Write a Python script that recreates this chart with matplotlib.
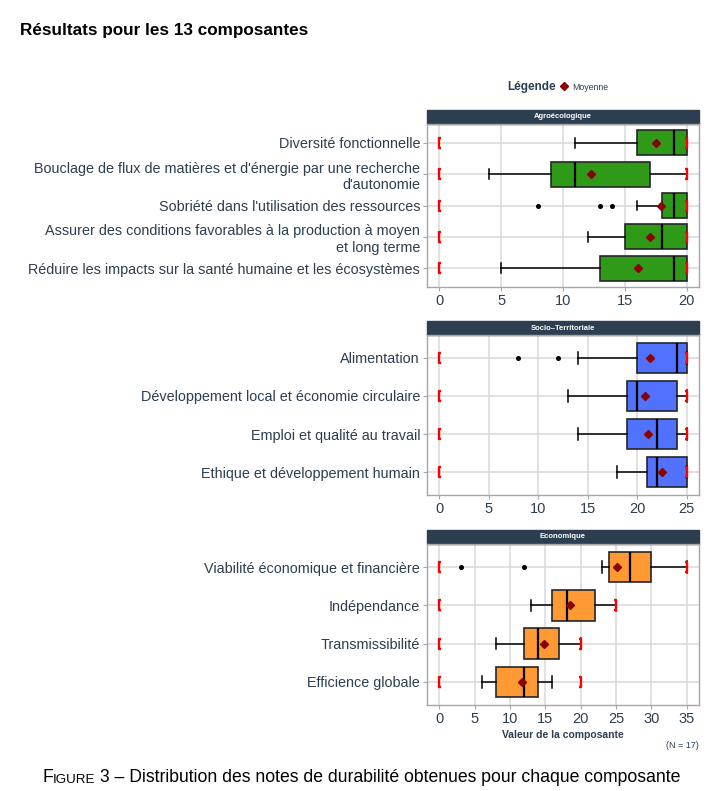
import numpy as np
import matplotlib
matplotlib.use("Agg")
import matplotlib.pyplot as plt
from matplotlib.patches import Rectangle
from matplotlib.lines import Line2D
from matplotlib.text import Annotation

plt.rcParams['font.family'] = ['Liberation Sans', 'DejaVu Sans']

# --- data ------------------------------------------------------------------
agro_labels = ["Diversité fonctionnelle",
               "Bouclage de flux de matières et d'énergie par une recherche\nd'autonomie",
               "Sobriété dans l'utilisation des ressources",
               "Assurer des conditions favorables à la production à moyen\net long terme",
               "Réduire les impacts sur la santé humaine et les écosystèmes"]
agro_whislo = [11, 4, 16, 12, 5]
agro_q1 = [16, 9, 18, 15, 13]
agro_med = [19, 11, 19, 18, 19]
agro_q3 = [20, 17, 20, 20, 20]
agro_whishi = [20, 20, 20, 20, 20]
agro_mean = [17.5, 12.3, 17.9, 17.0, 16.1]
agro_fliers = [[], [], [8, 13, 14], [], []]
agro_range = [20, 20, 20, 20, 20]

socio_labels = ["Alimentation",
                "Développement local et économie circulaire",
                "Emploi et qualité au travail",
                "Ethique et développement humain"]
socio_whislo = [14, 13, 14, 18]
socio_q1 = [20, 19, 19, 21]
socio_med = [24, 20, 22, 22]
socio_q3 = [25, 24, 24, 25]
socio_whishi = [25, 25, 25, 25]
socio_mean = [21.3, 20.8, 21.1, 22.5]
socio_fliers = [[8, 12], [], [], []]
socio_range = [25, 25, 25, 25]

eco_labels = ["Viabilité économique et financière",
              "Indépendance",
              "Transmissibilité",
              "Efficience globale"]
eco_whislo = [23, 13, 8, 6]
eco_q1 = [24, 16, 12, 8]
eco_med = [27, 18, 14, 12]
eco_q3 = [30, 22, 17, 14]
eco_whishi = [35, 25, 20, 16]
eco_mean = [25.2, 18.5, 14.8, 11.7]
eco_fliers = [[3, 12], [], [], []]
eco_range = [35, 25, 20, 20]

TXT = '#2c3e50'
W, H = 722, 791

# bracket shapes marking the possible min / max of each composante
left_br = [(0.45, -1), (0, -1), (0, 1), (0.45, 1)]
right_br = [(-0.45, -1), (0, -1), (0, 1), (-0.45, 1)]


def draw_panel(ax, title, labels, whislo, q1, med, q3, whishi, means, fliers,
               rng, xmax, fill, px_height):
    n = len(labels)
    pos = np.arange(1, n + 1)
    stats = []
    for i in range(n):
        stats.append(dict(whislo=whislo[i], q1=q1[i], med=med[i], q3=q3[i],
                          whishi=whishi[i], mean=means[i], fliers=fliers[i]))
    ax.bxp(stats, positions=pos, widths=0.8, orientation='horizontal',
           patch_artist=True, showmeans=True, capwidths=[0.3] * n,
           boxprops=dict(facecolor=fill, edgecolor='#262626', linewidth=1.2),
           medianprops=dict(color='black', linewidth=1.6),
           whiskerprops=dict(color='black', linewidth=1.1),
           capprops=dict(color='black', linewidth=1.1),
           flierprops=dict(marker='o', markersize=2.6, markerfacecolor='black',
                           markeredgecolor='black'),
           meanprops=dict(marker='D', markersize=4.0, markerfacecolor='#8B0000',
                          markeredgecolor='#8B0000'))
    ax.plot(np.zeros(n), pos, ls='none', marker=left_br, markersize=7.5,
            markeredgecolor='red', markerfacecolor='none', markeredgewidth=1.7,
            zorder=5, clip_on=False)
    ax.plot(rng, pos, ls='none', marker=right_br, markersize=7.5,
            markeredgecolor='red', markerfacecolor='none', markeredgewidth=1.7,
            zorder=5, clip_on=False)

    ax.set_xlim(-0.05 * xmax, 1.05 * xmax)
    ax.set_ylim(n + 0.6, 0.4)
    ticks = np.arange(0, xmax + 1, 5)
    ax.set_xticks(ticks)
    ax.set_xticklabels([str(v) for v in ticks])
    ax.set_yticks(pos)
    ax.set_yticklabels(labels)
    ax.set_axisbelow(True)
    ax.grid(True, color='#d9d9d9', linewidth=1.1)
    for s in ax.spines.values():
        s.set_color('#a6a6a6')
        s.set_linewidth(1.0)
    ax.tick_params(axis='both', colors='#a6a6a6', length=3, width=0.8,
                   labelsize=10.5, labelcolor=TXT, pad=2)
    ax.tick_params(axis='y', labelsize=10.4)

    hh = 14 / px_height
    ax.add_patch(Rectangle((0, 1), 1, hh, transform=ax.transAxes,
                           facecolor='#2c3e50', edgecolor='#2c3e50',
                           clip_on=False))
    ax.text(0.5, 1 + hh / 2, title, transform=ax.transAxes, ha='center',
            va='center', color='white', fontsize=5.5, fontweight='bold')


fig = plt.figure(figsize=(W / 100, H / 100), dpi=100)

left = 427 / W
width = 272 / W
ax1 = fig.add_axes([left, 1 - 287 / H, width, 163 / H])
ax2 = fig.add_axes([left, 1 - 495 / H, width, 160 / H])
ax3 = fig.add_axes([left, 1 - 705 / H, width, 161 / H])

draw_panel(ax1, 'Agroécologique', agro_labels, agro_whislo, agro_q1, agro_med,
           agro_q3, agro_whishi, agro_mean, agro_fliers, agro_range, 20,
           '#2E9A17', 163)
draw_panel(ax2, 'Socio\u2013Territoriale', socio_labels, socio_whislo, socio_q1,
           socio_med, socio_q3, socio_whishi, socio_mean, socio_fliers,
           socio_range, 25, '#5072FF', 160)
draw_panel(ax3, 'Economique', eco_labels, eco_whislo, eco_q1, eco_med, eco_q3,
           eco_whishi, eco_mean, eco_fliers, eco_range, 35, '#FF9933', 161)

ax3.set_xlabel('Valeur de la composante', fontsize=7.5, fontweight='bold',
               color=TXT, labelpad=3)

# title
fig.text(20 / W, 1 - 31 / H, 'Résultats pour les 13 composantes', ha='left',
         va='center', fontsize=12.3, fontweight='bold', color='black')

# legend
fig.text(556 / W, 1 - 87 / H, 'Légende', ha='right', va='center',
         fontsize=8.5, fontweight='bold', color=TXT)
mean_handle = Line2D([], [], ls='none', marker='D', markersize=3.6,
                     markerfacecolor='#8B0000', markeredgecolor='#8B0000')
fig.legend(handles=[mean_handle], labels=['Moyenne'], loc='center left',
           bbox_to_anchor=(560 / W, 1 - 87 / H), frameon=False, fontsize=6.3,
           handlelength=1.0, handletextpad=0.4, borderpad=0, borderaxespad=0,
           labelcolor=TXT)

fig.text(699 / W, 1 - 745 / H, '(N = 17)', ha='right', va='center',
         fontsize=6.5, color=TXT)

# caption with small caps "FIGURE"
t1 = fig.text(42 / W, 1 - 778 / H, 'F', ha='left', va='center', fontsize=12.7)
ann1 = Annotation('IGURE', xy=(1, 0), xycoords=t1, xytext=(0, 0.7),
                  textcoords='offset points', ha='left', va='bottom',
                  fontsize=9.6, annotation_clip=False)
fig.add_artist(ann1)
ann2 = Annotation(' 3 \u2013 Distribution des notes de durabilité obtenues pour chaque composante',
                  xy=(1, 0), xycoords=ann1, xytext=(0, -0.7),
                  textcoords='offset points', ha='left', va='bottom',
                  fontsize=12.7, annotation_clip=False)
fig.add_artist(ann2)

fig.savefig('out.png', dpi=100)
